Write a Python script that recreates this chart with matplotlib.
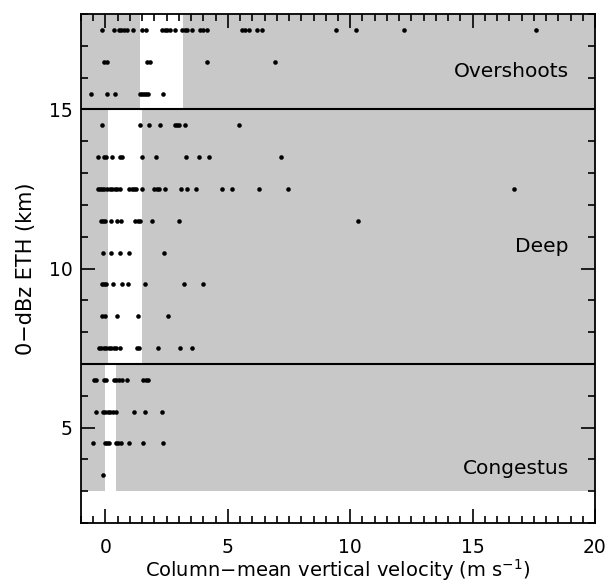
import matplotlib
matplotlib.use("Agg")
import matplotlib.pyplot as plt
from matplotlib.ticker import MultipleLocator, FixedLocator

plt.rcParams['font.family'] = ['DejaVu Sans']

# ---- data ----
levels = [17.5, 16.5, 15.5, 14.5, 13.5, 12.5, 11.5, 10.5, 9.5, 8.5, 7.5, 6.5, 5.5, 4.5, 3.5]
w_17_5 = [-0.14, 0.34, 0.54, 0.64, 0.75, 0.88, 1.12, 1.49, 1.67, 2.3, 2.44, 2.53, 2.64, 2.85,
          3.12, 3.25, 3.35, 3.52, 3.86, 3.97, 4.13, 5.56, 5.69, 5.85, 6.2, 6.4, 9.43, 10.23, 12.2, 17.6]
w_16_5 = [-0.04, 0.05, 1.7, 1.83, 4.13, 6.94]
w_15_5 = [-0.58, 0.08, 0.38, 1.42, 1.5, 1.58, 1.67, 1.72, 2.35]
w_14_5 = [-0.14, 1.4, 1.76, 2.21, 2.85, 2.94, 3.02, 3.25, 5.45]
w_13_5 = [-0.32, -0.04, 0.04, 0.27, 0.58, 0.68, 1.49, 2.06, 3.29, 3.83, 4.24, 7.17]
w_12_5 = [-0.31, -0.23, -0.14, -0.04, 0.07, 0.18, 0.27, 0.37, 0.48, 0.61, 0.95, 1.08, 1.18, 1.26,
          1.49, 1.99, 2.1, 2.19, 2.44, 3.08, 3.32, 3.69, 4.77, 5.18, 6.28, 7.45, 16.7]
w_11_5 = [-0.2, -0.09, 0.0, 0.23, 0.48, 0.64, 1.22, 1.31, 1.42, 1.9, 3.01, 10.33]
w_10_5 = [-0.1, 0.23, 0.61, 0.98, 2.41]
w_9_5 = [-0.14, -0.07, 0.03, 0.3, 0.68, 0.92, 1.63, 3.19, 3.97]
w_8_5 = [-0.14, 0.0, 0.48, 1.31, 2.55]
w_7_5 = [-0.27, -0.18, -0.07, 0.03, 0.14, 0.23, 0.34, 0.45, 0.58, 1.29, 1.38, 2.13, 3.05, 3.52]
w_6_5 = [-0.47, -0.37, -0.07, 0.04, 0.34, 0.45, 0.54, 0.68, 0.88, 1.53, 1.67, 1.72]
w_5_5 = [-0.38, -0.09, 0.0, 0.1, 0.2, 0.31, 0.45, 1.18, 1.63, 2.3]
w_4_5 = [-0.51, -0.02, 0.07, 0.16, 0.41, 0.5, 0.65, 0.98, 1.52, 2.35]
w_3_5 = [-0.11]
level_values = [w_17_5, w_16_5, w_15_5, w_14_5, w_13_5, w_12_5, w_11_5, w_10_5,
                w_9_5, w_8_5, w_7_5, w_6_5, w_5_5, w_4_5, w_3_5]

classes = ["Congestus", "Deep", "Overshoots"]
class_bottom = [3, 7, 15]
class_top = [7, 15, 18]
band_low = [0.0, 0.1, 1.42]
band_high = [0.45, 1.5, 3.18]
label_y = [3.72, 10.7, 16.18]
divider_heights = [7, 15]

xmin, xmax = -1, 20
ymin, ymax = 2, 18
x_major = [0, 5, 10, 15, 20]
y_major = [5, 10, 15]

# ---- figure ----
fig = plt.figure(figsize=(6.09, 5.82), dpi=100)
ax = fig.add_axes([81/609, 59/582, 514/609, 509/582])
gray = '#c8c8c8'

for lo, hi, b, t in zip(band_low, band_high, class_bottom, class_top):
    ax.fill_between([xmin, lo], b, t, color=gray, lw=0, zorder=0.5)
    ax.fill_between([hi, xmax], b, t, color=gray, lw=0, zorder=0.5)

for h in divider_heights:
    ax.axhline(h, color='black', lw=1.5, zorder=3)

xs, ys = [], []
for lev, vals in zip(levels, level_values):
    xs.extend(vals)
    ys.extend([lev] * len(vals))
ax.plot(xs, ys, 'o', color='black', ms=3.3, mec='black', mew=0, zorder=4)

for name, yy in zip(classes, label_y):
    ax.text(18.93, yy, name, ha='right', va='center', fontsize=14.5, zorder=5)

ax.set_xlim(xmin, xmax)
ax.set_ylim(ymin, ymax)
ax.set_xticks(x_major)
ax.set_xticks([v * 0.5 for v in range(-2, 41)], minor=True)
ax.set_yticks(y_major)
ax.set_yticks(list(range(2, 19)), minor=True)
ax.tick_params(which='both', direction='in', top=True, bottom=True, left=True, right=True,
               width=1.2, color='black', labelsize=13.5)
ax.tick_params(which='major', length=10)
ax.tick_params(which='minor', length=5)
ax.tick_params(axis='x', which='major', pad=11)
ax.tick_params(axis='y', which='major', pad=6)
for s in ax.spines.values():
    s.set_linewidth(1.3)

ax.set_xlabel("Column\u2212mean vertical velocity (m s$^{-1}$)", fontsize=14, labelpad=0)
ax.set_ylabel("0\u2212dBz ETH (km)", fontsize=15, labelpad=9)

fig.savefig("out.png", dpi=100)
